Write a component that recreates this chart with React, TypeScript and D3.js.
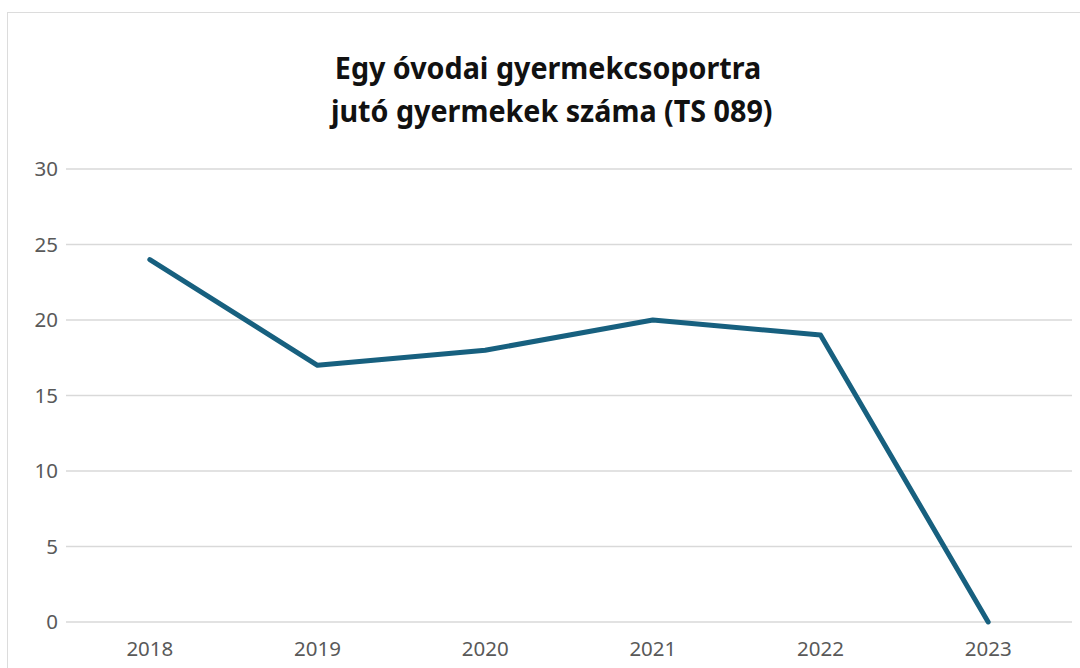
import { useMemo } from 'react';
import * as d3 from 'd3';

const YEARS = ['2018', '2019', '2020', '2021', '2022', '2023'];
const VALUES = [24, 17, 18, 20, 19, 0];
const Y_TICKS = [0, 5, 10, 15, 20, 25, 30];
const TITLE_LINES = ['Egy óvodai gyermekcsoportra', ' jutó gyermekek száma (TS 089)'];

const WIDTH = 1080;
const HEIGHT = 668;
const LEFT = 66;
const RIGHT = 1072;
const TOP = 169;
const BOTTOM = 622;
const LINE_COLOR = '#17607f';
const FONT = '"Noto Sans", "Open Sans", sans-serif';

export default function App() {
  const x = useMemo(
    () => d3.scalePoint<string>().domain(YEARS).range([LEFT, RIGHT]).padding(0.5),
    [],
  );
  const y = useMemo(() => d3.scaleLinear().domain([0, 30]).range([BOTTOM, TOP]), []);

  const path = d3
    .line<number>()
    .x((_, i) => x(YEARS[i]) ?? 0)
    .y((d) => y(d))(VALUES);

  return (
    <svg
      width={WIDTH}
      height={HEIGHT}
      style={{ position: 'fixed', left: 0, top: 0, background: '#fff' }}
    >
      <rect x={7.5} y={12.5} width={1100} height={700} fill="#fff" stroke="#dcdcdc" />

      {/* title, squeezed a bit to look like the condensed original */}
      {TITLE_LINES.map((line, i) => (
        <text
          key={i}
          transform={`translate(548,${79 + i * 42.5}) scale(0.926,1)`}
          fontFamily={FONT}
          fontWeight={700}
          fontSize={31}
          fill="#111"
          textAnchor="middle"
          style={{ whiteSpace: 'pre' }}
        >
          {line}
        </text>
      ))}

      <g>
        {Y_TICKS.map((t) => (
          <g key={t}>
            <line x1={LEFT} x2={RIGHT} y1={y(t)} y2={y(t)} stroke="#d9d9d9" strokeWidth={1.5} />
            <text
              x={58}
              y={y(t)}
              dy="0.35em"
              textAnchor="end"
              fontFamily={FONT}
              fontSize={20.5}
              fill="#595959"
            >
              {t}
            </text>
          </g>
        ))}
      </g>

      <g>
        {YEARS.map((yr) => (
          <text
            key={yr}
            x={x(yr)}
            y={656}
            textAnchor="middle"
            fontFamily={FONT}
            fontSize={20.5}
            fill="#595959"
          >
            {yr}
          </text>
        ))}
      </g>

      <path
        d={path ?? ''}
        fill="none"
        stroke={LINE_COLOR}
        strokeWidth={5}
        strokeLinecap="round"
        strokeLinejoin="round"
      />
    </svg>
  );
}
